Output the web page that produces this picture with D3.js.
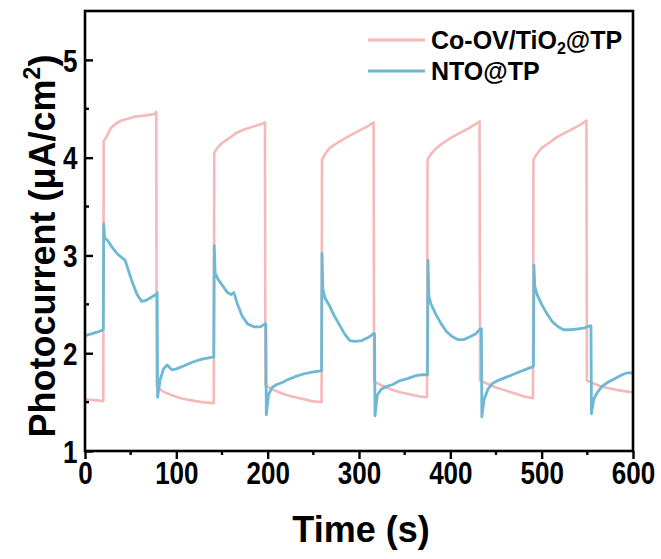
<!DOCTYPE html>
<html>
<head>
<meta charset="utf-8">
<script src="https://cdn.jsdelivr.net/npm/d3@7"></script>
<style>
  html, body { margin: 0; padding: 0; background: #fff; }
  svg { display: block; }
</style>
</head>
<body>
<div id="chart"></div>
<script>
// ---------- data ----------
const xTicks = [0, 100, 200, 300, 400, 500, 600];
const yTicks = [1, 2, 3, 4, 5];
const seriesNames = ["Co-OV/TiO\u2082@TP", "NTO@TP"];
const seriesColors = ["#f5b9b9", "#6db8d3"];

// Co-OV/TiO2@TP
const coTime = [0, 10, 20, 20.5, 24, 28, 34, 40, 48, 55, 65, 72, 77.5, 78,
  78.5, 85, 95, 105, 115, 128, 140, 141,
  141.5, 145, 150, 158, 165, 175, 185, 192, 197,
  197.5, 205, 215, 225, 235, 248, 258, 259,
  259.5, 263, 268, 276, 285, 295, 305, 311, 316,
  316.5, 325, 335, 345, 355, 365, 374, 374.5,
  375, 379, 385, 392, 400, 410, 420, 427, 432,
  432.5, 440, 450, 460, 470, 480, 490, 490.5,
  491, 495, 500, 508, 515, 525, 535, 543, 549,
  549.5, 557, 565, 575, 585, 592, 600];
const coVal = [1.53, 1.52, 1.51, 4.17, 4.22, 4.3, 4.35, 4.38, 4.4, 4.42, 4.43, 4.44, 4.45, 4.47,
  1.66, 1.61, 1.57, 1.54, 1.52, 1.5, 1.49, 1.49,
  4.05, 4.1, 4.15, 4.2, 4.25, 4.29, 4.32, 4.34, 4.36,
  1.67, 1.63, 1.59, 1.56, 1.54, 1.51, 1.5, 1.5,
  3.98, 4.04, 4.1, 4.15, 4.2, 4.25, 4.3, 4.33, 4.36,
  1.71, 1.67, 1.63, 1.6, 1.58, 1.56, 1.55, 1.55,
  3.98, 4.04, 4.1, 4.15, 4.2, 4.25, 4.3, 4.34, 4.37,
  1.72, 1.69, 1.65, 1.62, 1.59, 1.56, 1.54, 1.54,
  3.98, 4.04, 4.1, 4.15, 4.2, 4.25, 4.3, 4.34, 4.38,
  1.72, 1.69, 1.66, 1.64, 1.62, 1.61, 1.6];

// NTO@TP
const ntoTime = [0, 8, 15, 20, 20.5, 21.5, 25, 30, 35, 40, 44, 47, 52, 57, 62, 67, 72, 78, 79,
  79.5, 82, 86, 90, 95, 100, 108, 118, 128, 140, 141,
  141.5, 142.5, 146, 150, 156, 160, 163, 167, 172, 178, 185, 192, 197, 198,
  198.5, 201, 205, 210, 216, 222, 230, 240, 250, 258, 259,
  259.5, 260.5, 263, 268, 273, 278, 284, 290, 296, 303, 310, 316, 317,
  317.5, 320, 324, 330, 337, 345, 353, 362, 370, 374, 375,
  375.5, 376.5, 379, 384, 390, 396, 402, 408, 415, 422, 428, 433, 434,
  434.5, 437, 441, 446, 452, 460, 468, 476, 484, 490, 491,
  491.5, 492.5, 495, 500, 506, 512, 518, 524, 532, 540, 547, 553, 554,
  554.5, 557, 561, 566, 572, 580, 588, 594, 600];
const ntoVal = [2.18, 2.2, 2.22, 2.24, 3.32, 3.18, 3.15, 3.08, 3.02, 2.98, 2.95, 2.86, 2.72, 2.6, 2.53, 2.54, 2.57, 2.6, 2.62,
  1.55, 1.72, 1.84, 1.88, 1.83, 1.84, 1.87, 1.91, 1.94, 1.96, 1.96,
  3.1, 2.82, 2.75, 2.7, 2.62, 2.6, 2.62, 2.5, 2.38, 2.3, 2.27, 2.27, 2.3, 2.3,
  1.37, 1.58, 1.65, 1.68, 1.7, 1.73, 1.76, 1.79, 1.81, 1.82, 1.82,
  3.02, 2.65, 2.56, 2.48, 2.38, 2.3, 2.2, 2.13, 2.12, 2.13, 2.16, 2.2, 2.2,
  1.36, 1.57, 1.63, 1.66, 1.68, 1.72, 1.74, 1.77, 1.78, 1.78, 1.78,
  2.95, 2.58, 2.5, 2.4, 2.3, 2.22, 2.17, 2.14, 2.14, 2.17, 2.2, 2.25, 2.25,
  1.35, 1.53, 1.63, 1.69, 1.72, 1.75, 1.78, 1.81, 1.84, 1.86, 1.87,
  2.9, 2.68, 2.6, 2.5, 2.4, 2.32, 2.27, 2.24, 2.24, 2.25, 2.26, 2.28, 2.28,
  1.38, 1.53, 1.6, 1.66, 1.7, 1.74, 1.78, 1.8, 1.8];

// ---------- layout ----------
const W = 661, H = 559;
const L = 85, R = 633, T = 11, B = 451;

const svg = d3.select("#chart").append("svg")
  .attr("width", W).attr("height", H);

const x = d3.scaleLinear().domain([0, 600]).range([L, R]);
const y = d3.scaleLinear().domain([1, 5.5]).range([B, T]);

const tickFont = "'Liberation Sans', Arial, sans-serif";
const titleFont = "'Liberation Sans', Arial, sans-serif";

// ---------- lines ----------
const line = d3.line().x(d => x(d[0])).y(d => y(d[1]));
const coData = coTime.map((t, i) => [t, coVal[i]]);
const ntoData = ntoTime.map((t, i) => [t, ntoVal[i]]);

svg.append("defs").append("clipPath").attr("id", "clip")
  .append("rect").attr("x", L).attr("y", T).attr("width", R - L).attr("height", B - T);

const plot = svg.append("g").attr("clip-path", "url(#clip)");
plot.append("path").datum(coData).attr("d", line)
  .attr("fill", "none").attr("stroke", seriesColors[0]).attr("stroke-width", 2.6)
  .attr("stroke-linejoin", "round");
plot.append("path").datum(ntoData).attr("d", line)
  .attr("fill", "none").attr("stroke", seriesColors[1]).attr("stroke-width", 2.8)
  .attr("stroke-linejoin", "round");

// ---------- axes ----------
// x axis: ticks outward
const xMinor = d3.range(50, 600, 100);
const xAxis = svg.append("g").attr("transform", `translate(0,${B})`)
  .call(d3.axisBottom(x).tickValues(xTicks).tickSize(8).tickFormat(d3.format("d")));
xAxis.select(".domain").remove();
xAxis.selectAll(".tick line").attr("stroke", "#000").attr("stroke-width", 2.4);
xAxis.selectAll(".tick text").attr("font-family", tickFont).attr("font-weight", "bold")
  .attr("font-size", 31).attr("fill", "#000").attr("y", 10).attr("dy", "0.75em")
  .attr("transform", "scale(0.84,1)");
svg.append("g").selectAll("line").data(xMinor).join("line")
  .attr("x1", d => x(d)).attr("x2", d => x(d)).attr("y1", B).attr("y2", B + 4)
  .attr("stroke", "#000").attr("stroke-width", 2.4);

// y axis: ticks inward
const yMinor = [1.5, 2.5, 3.5, 4.5];
const yAxis = svg.append("g").attr("transform", `translate(${L},0)`)
  .call(d3.axisLeft(y).tickValues(yTicks).tickSize(-8).tickFormat(d3.format("d")));
yAxis.select(".domain").remove();
yAxis.selectAll(".tick line").attr("stroke", "#000").attr("stroke-width", 2.4);
yAxis.selectAll(".tick text").attr("font-family", tickFont).attr("font-weight", "bold")
  .attr("font-size", 31).attr("fill", "#000").attr("x", -9).attr("dy", "0.36em")
  .attr("transform", "scale(0.84,1)");
svg.append("g").selectAll("line").data(yMinor).join("line")
  .attr("x1", L).attr("x2", L + 4).attr("y1", d => y(d)).attr("y2", d => y(d))
  .attr("stroke", "#000").attr("stroke-width", 2.4);

// frame
svg.append("rect").attr("x", L).attr("y", T).attr("width", R - L).attr("height", B - T)
  .attr("fill", "none").attr("stroke", "#000").attr("stroke-width", 2.6);

// ---------- titles ----------
svg.append("text").attr("x", 361).attr("y", 542)
  .attr("text-anchor", "middle").attr("font-family", titleFont).attr("font-weight", "bold")
  .attr("font-size", 36).attr("fill", "#000").text("Time (s)");

const yt = svg.append("text")
  .attr("transform", `translate(55,246) rotate(-90)`)
  .attr("text-anchor", "middle").attr("font-family", titleFont).attr("font-weight", "bold")
  .attr("font-size", 36).attr("fill", "#000");
yt.append("tspan").text("Photocurrent (\u03bcA/cm");
yt.append("tspan").attr("font-size", 23).attr("dy", -15).text("2");
yt.append("tspan").attr("dy", 15).text(")");

// ---------- legend ----------
const legendY = [40, 71];
const lg = svg.append("g");
seriesNames.forEach((name, i) => {
  lg.append("line").attr("x1", 368).attr("x2", 425).attr("y1", legendY[i]).attr("y2", legendY[i])
    .attr("stroke", seriesColors[i]).attr("stroke-width", 2.8);
});
const t1 = lg.append("text").attr("x", 431).attr("y", legendY[0] + 9)
  .attr("font-family", titleFont).attr("font-weight", "bold").attr("font-size", 25).attr("fill", "#000");
t1.append("tspan").text("Co-OV/TiO");
t1.append("tspan").attr("font-size", 16).attr("dy", 5).text("2");
t1.append("tspan").attr("dy", -5).text("@TP");
lg.append("text").attr("x", 431).attr("y", legendY[1] + 9)
  .attr("font-family", titleFont).attr("font-weight", "bold").attr("font-size", 25).attr("fill", "#000")
  .text(seriesNames[1]);
</script>
</body>
</html>
